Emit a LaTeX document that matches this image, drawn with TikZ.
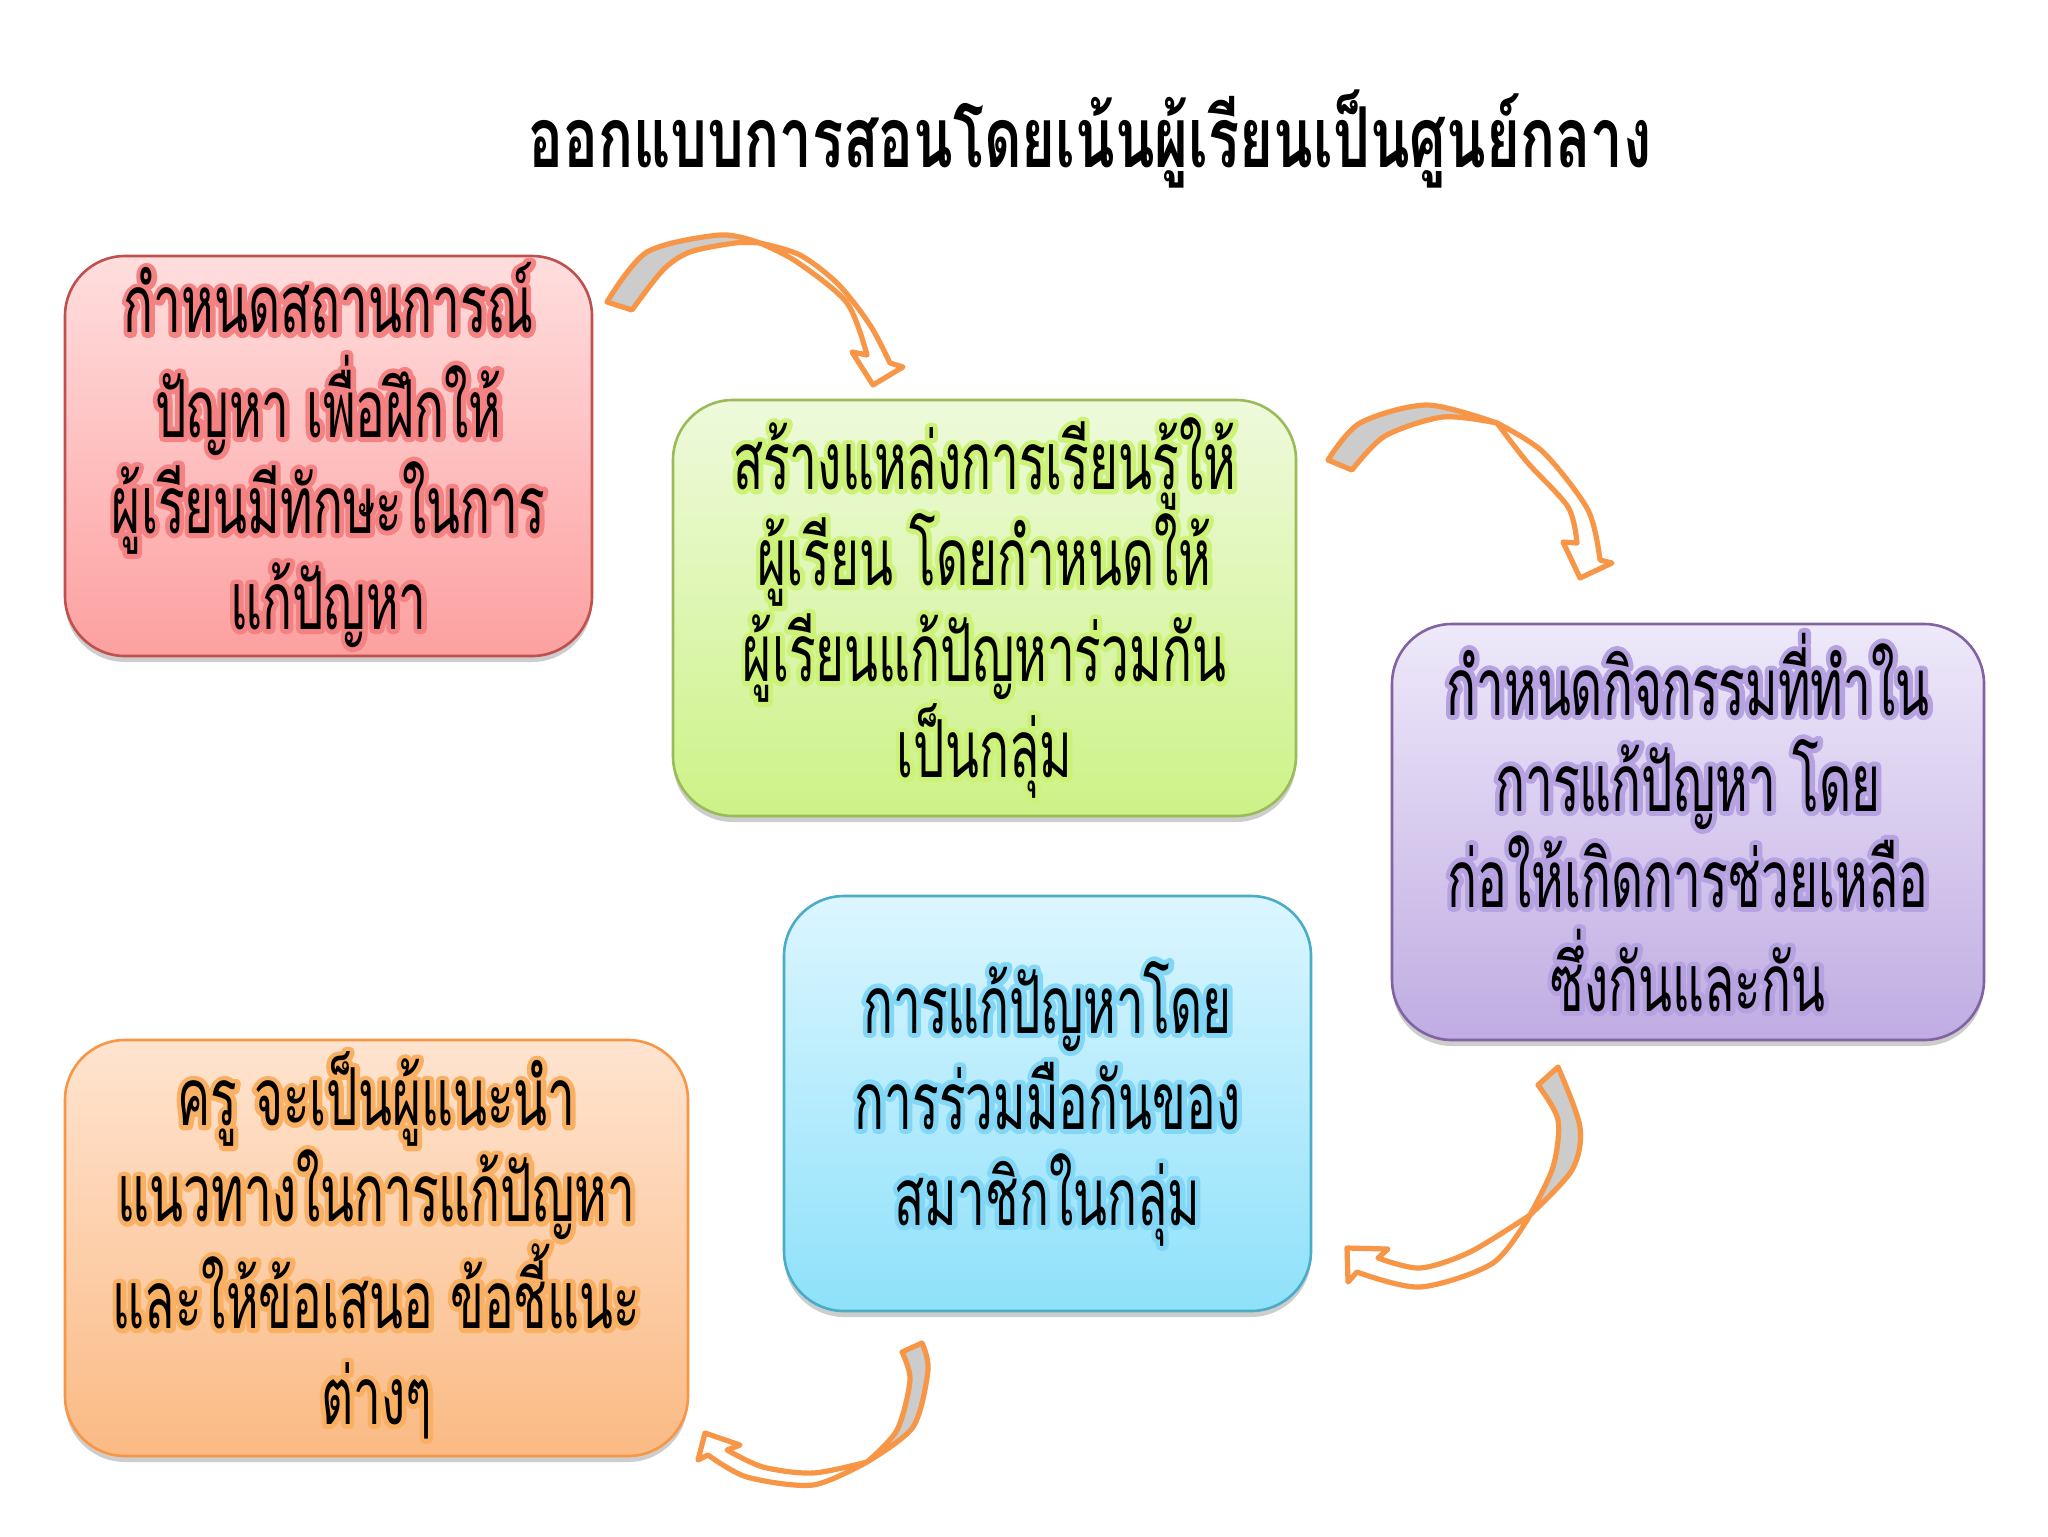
\documentclass[tikz,border=0pt]{standalone}
\usepackage{fontspec}
\usetikzlibrary{shadows}
\newfontfamily\thaifont[Script=Thai,FakeStretch=0.62]{Loma}
\newfontfamily\glowfont[Script=Thai,FakeStretch=0.62,FakeBold=12]{Loma}
\newfontfamily\titlefont[Script=Thai,FakeStretch=0.69]{Loma}
\definecolor{arrowor}{RGB}{247,150,70}
\definecolor{arrowgray}{RGB}{204,204,204}
\definecolor{redtop}{RGB}{255,222,222}\definecolor{redbot}{RGB}{253,160,160}\definecolor{redbd}{RGB}{192,80,77}\definecolor{redgl}{RGB}{245,130,130}
\definecolor{grntop}{RGB}{238,250,220}\definecolor{grnbot}{RGB}{205,242,135}\definecolor{grnbd}{RGB}{155,187,89}\definecolor{grngl}{RGB}{204,242,120}
\definecolor{purtop}{RGB}{238,233,250}\definecolor{purbot}{RGB}{192,172,226}\definecolor{purbd}{RGB}{128,100,162}\definecolor{purgl}{RGB}{182,162,224}
\definecolor{blutop}{RGB}{220,246,255}\definecolor{blubot}{RGB}{142,225,250}\definecolor{blubd}{RGB}{75,172,198}\definecolor{blugl}{RGB}{130,214,246}
\definecolor{ortop}{RGB}{255,228,208}\definecolor{orbot}{RGB}{250,186,132}\definecolor{orbd}{RGB}{247,150,70}\definecolor{orgl}{RGB}{250,176,98}
\newcommand{\ls}{\rule[-10pt]{0pt}{40pt}}
\newsavebox{\glbox}
\newcommand{\gl}[2]{\ls\sbox{\glbox}{#2}\rlap{\hbox to \wd\glbox{\hss{\special{pdf:literal direct 1 j 1 J}\glowfont\color{#1}#2}\hss}}\usebox{\glbox}}
\tikzset{
  box/.style={draw=#1bd, line width=1.3pt, rounded corners=30pt,
    top color=#1top, bottom color=#1bot, align=center, inner sep=0pt,
    font=\thaifont\fontsize{40}{48}\selectfont,
    drop shadow={shadow xshift=0pt, shadow yshift=-3pt, opacity=0.28, fill=black!70}},
  arrowline/.style={draw=arrowor, line width=2.6pt, line join=round},
}
\begin{document}
\begin{tikzpicture}[x=0.5pt,y=-0.5pt]
\useasboundingbox[fill=white] (0,0) rectangle (2048,1536);
\node[anchor=base, font=\titlefont\bfseries\fontsize{42}{50}\selectfont] (title) at (1090,167) {ออกแบบการสอนโดยเน้นผู้เรียนเป็นศูนย์กลาง};

\node[box=red, minimum width=263.5pt, minimum height=200pt] (b1) at (328.5,456)
 {\gl{redgl}{กำหนดสถานการณ์}\\\gl{redgl}{ปัญหา เพื่อฝึกให้}\\\gl{redgl}{ผู้เรียนมีทักษะในการ}\\\gl{redgl}{แก้ปัญหา}};
\node[box=grn, minimum width=311.5pt, minimum height=208pt] (b2) at (984.5,608)
 {\gl{grngl}{สร้างแหล่งการเรียนรู้ให้}\\\gl{grngl}{ผู้เรียน โดยกำหนดให้}\\\gl{grngl}{ผู้เรียนแก้ปัญหาร่วมกัน}\\\gl{grngl}{เป็นกลุ่ม}};
\node[box=pur, minimum width=296pt, minimum height=208pt] (b3) at (1688,832)
 {\gl{purgl}{กำหนดกิจกรรมที่ทำใน}\\\gl{purgl}{การแก้ปัญหา โดย}\\\gl{purgl}{ก่อให้เกิดการช่วยเหลือ}\\\gl{purgl}{ซึ่งกันและกัน}};
\node[box=blu, minimum width=263.5pt, minimum height=207.5pt] (b4) at (1047.5,1103.5)
 {\gl{blugl}{การแก้ปัญหาโดย}\\\gl{blugl}{การร่วมมือกันของ}\\\gl{blugl}{สมาชิกในกลุ่ม}};
\node[box=or, minimum width=311.5pt, minimum height=208pt] (b5) at (376.5,1248)
 {\gl{orgl}{ครู จะเป็นผู้แนะนำ}\\\gl{orgl}{แนวทางในการแก้ปัญหา}\\\gl{orgl}{และให้ข้อเสนอ ข้อชี้แนะ}\\\gl{orgl}{ต่างๆ}};

% arrow 1
\coordinate (a1t) at (607,302); \coordinate (a1x) at (760,243); \coordinate (a1h) at (873,385);
\path[arrowline, fill=white] (a1x) -- plot[smooth] coordinates {(760,243) (800,255) (838,284) (870,325) (890,363)}
  -- (903,367) -- (a1h) -- (852,352) -- (867,355)
  -- plot[smooth] coordinates {(867,355) (847,303) (797,262) (760,243)} -- cycle;
\path[arrowline, fill=arrowgray] (a1t) -- plot[smooth] coordinates {(607,302) (647,252) (720,235) (760,243)}
  -- plot[smooth] coordinates {(760,243) (735,243) (690,252) (663,270) (632,310)} -- cycle;
% arrow 2
\coordinate (a2t) at (1328,460); \coordinate (a2x) at (1497,423); \coordinate (a2h) at (1580,578);
\path[arrowline, fill=white] (a2x) -- plot[smooth] coordinates {(1497,423) (1543,452) (1588,510) (1600,560)}
  -- (1612,563) -- (a2h) -- (1563,542) -- (1577,543)
  -- plot[smooth] coordinates {(1577,543) (1568,507) (1527,462) (1497,423)} -- cycle;
\path[arrowline, fill=arrowgray] (a2t) -- plot[smooth] coordinates {(1328,460) (1360,423) (1427,405) (1497,423)}
  -- plot[smooth] coordinates {(1497,423) (1443,417) (1385,436) (1352,470)} -- cycle;
% arrow 3
\coordinate (a3t) at (1558,1067); \coordinate (a3x) at (1530,1215); \coordinate (a3h) at (1347,1248);
\path[arrowline, fill=white] (a3x) -- plot[smooth] coordinates {(1530,1215) (1493,1263) (1420,1287) (1357,1272)}
  -- (1348,1282) -- (a3h) -- (1388,1249) -- (1378,1258)
  -- plot[smooth] coordinates {(1378,1258) (1420,1268) (1470,1252) (1530,1215)} -- cycle;
\path[arrowline, fill=arrowgray] (a3t) -- plot[smooth] coordinates {(1558,1067) (1580,1127) (1572,1170) (1530,1215)}
  -- plot[smooth] coordinates {(1530,1215) (1553,1167) (1558,1120) (1538,1085)} -- cycle;
% arrow 4
\coordinate (a4t) at (922,1343); \coordinate (a4x) at (867,1462); \coordinate (a4h) at (705,1433);
\path[arrowline, fill=white] (a4x) -- plot[smooth] coordinates {(867,1462) (813,1485) (747,1477) (708,1455)}
  -- (698,1460) -- (a4h) -- (740,1445) -- (727,1450)
  -- plot[smooth] coordinates {(727,1450) (763,1467) (813,1473) (867,1462)} -- cycle;
\path[arrowline, fill=arrowgray] (a4t) -- plot[smooth] coordinates {(922,1343) (928,1370) (913,1427) (867,1462)}
  -- plot[smooth] coordinates {(867,1462) (897,1430) (910,1380) (902,1352)} -- cycle;
\end{tikzpicture}
\end{document}
